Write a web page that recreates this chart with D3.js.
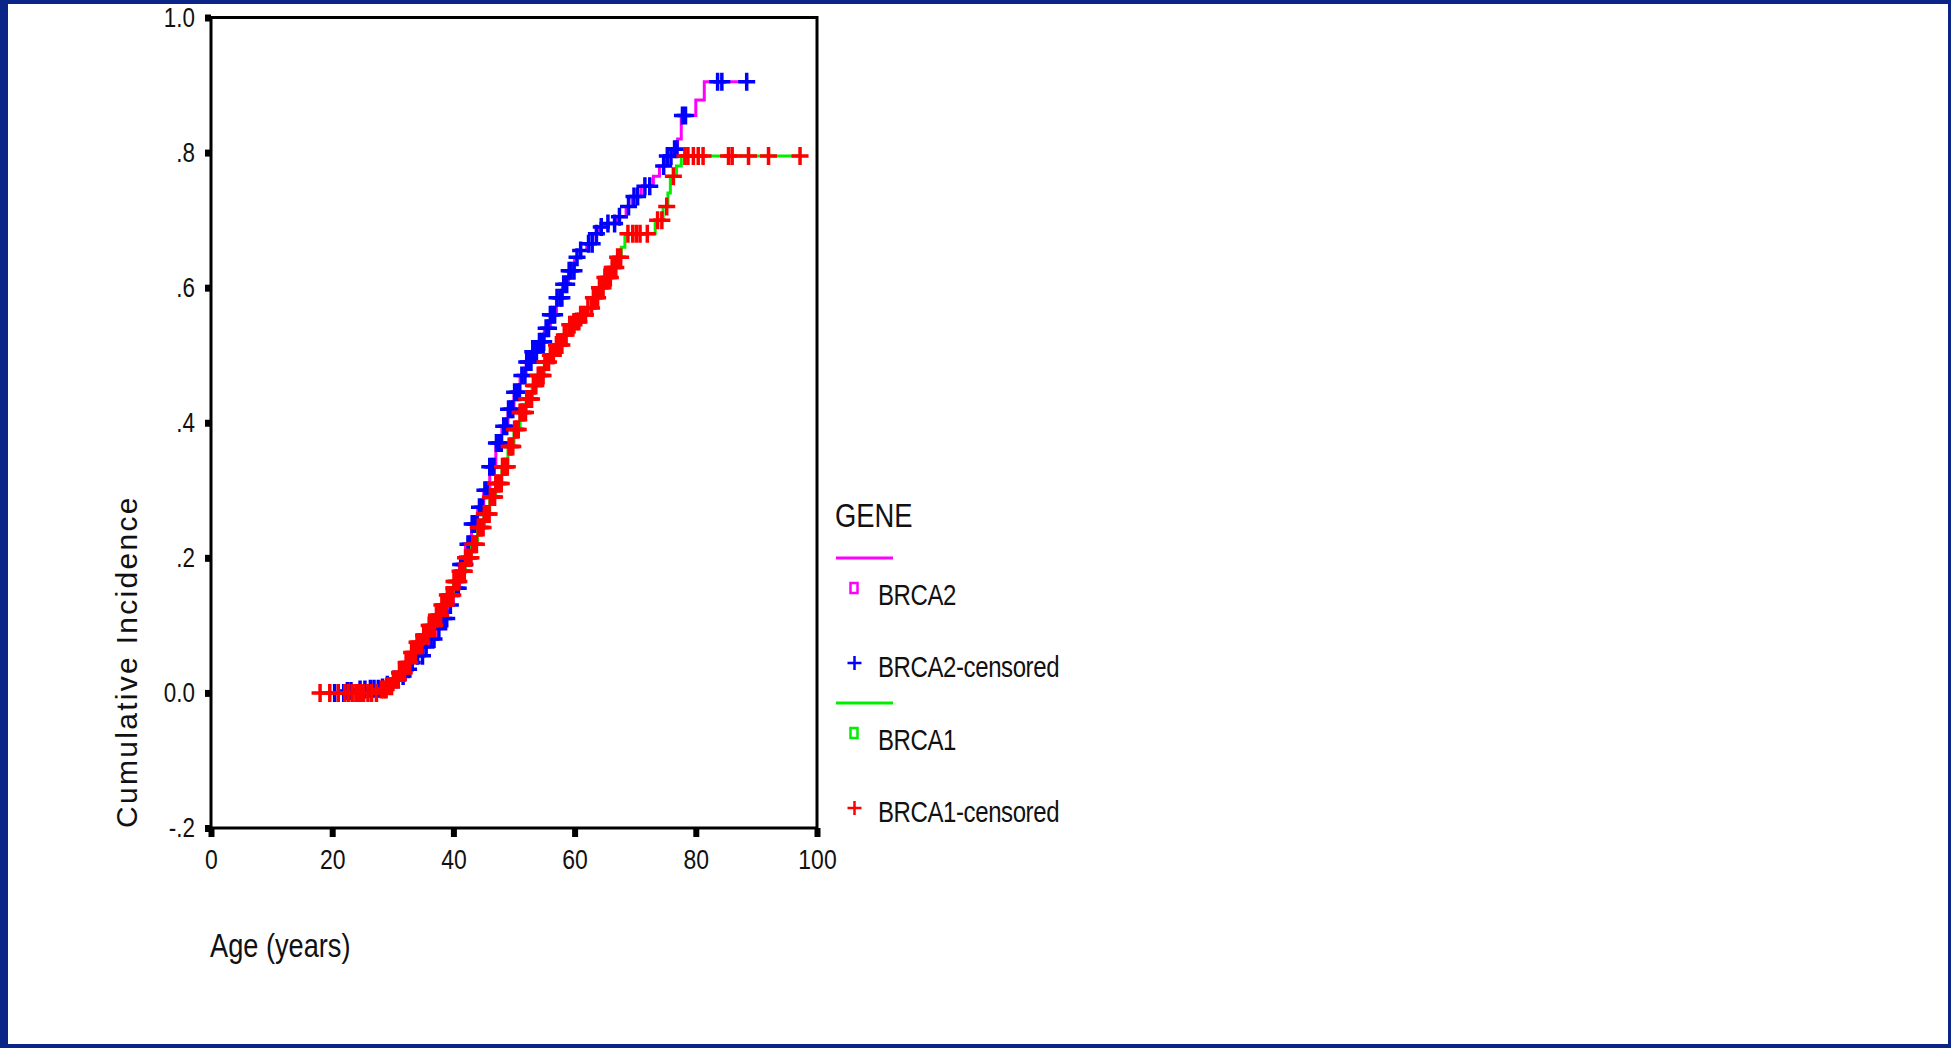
<!DOCTYPE html>
<html>
<head>
<meta charset="utf-8">
<script src="https://cdn.jsdelivr.net/npm/d3@7"></script>
<style>
body { margin:0; background:#ffffff; }
svg { display:block; }
text { font-family:"Liberation Sans",Arial,sans-serif; fill:#111; }
</style>
</head>
<body>
<svg></svg>
<script>
//step points of each curve (age, cumulative incidence)
var brca2Ages   = [18, 22, 24, 26, 28, 29, 30, 31, 32, 33, 34, 35, 36, 37, 38, 39, 40, 41, 42, 43, 44, 45, 46, 47, 48, 49, 50, 51, 52, 53, 54, 55, 56, 57, 58, 59, 60, 61, 62, 63, 64, 65.5, 67, 68.5, 69.5, 71, 73, 74, 75, 76, 77, 77.6, 80, 81.4, 88.4];
var brca2Values = [0, 0.003, 0.005, 0.006, 0.008, 0.012, 0.02, 0.025, 0.035, 0.045, 0.055, 0.068, 0.08, 0.095, 0.11, 0.13, 0.155, 0.19, 0.22, 0.25, 0.275, 0.30, 0.335, 0.37, 0.395, 0.42, 0.445, 0.47, 0.49, 0.505, 0.52, 0.54, 0.56, 0.585, 0.605, 0.625, 0.645, 0.655, 0.665, 0.68, 0.69, 0.695, 0.705, 0.72, 0.735, 0.75, 0.765, 0.78, 0.795, 0.805, 0.82, 0.855, 0.878, 0.905, 0.905];

var brca1Ages   = [18, 28, 29, 30, 31, 32, 33, 34, 35, 36, 37, 38, 39, 40, 41, 42, 43, 44, 45, 46, 47, 48, 49, 50, 51, 52, 53, 54, 55, 56, 57, 58, 59, 60, 61, 62, 63, 64, 65, 66, 67, 67.7, 68.3, 73.3, 74.6, 75.4, 75.8, 76.8, 77.6, 97.2];
var brca1Values = [0, 0.005, 0.01, 0.02, 0.03, 0.045, 0.06, 0.075, 0.085, 0.10, 0.115, 0.13, 0.145, 0.165, 0.18, 0.20, 0.22, 0.245, 0.265, 0.29, 0.31, 0.335, 0.365, 0.39, 0.415, 0.435, 0.455, 0.47, 0.49, 0.50, 0.515, 0.53, 0.545, 0.55, 0.56, 0.57, 0.585, 0.60, 0.615, 0.63, 0.645, 0.66, 0.68, 0.70, 0.72, 0.74, 0.765, 0.78, 0.795, 0.795];

//ages of the censor marks
var brca2Censored = [20.4, 21.9, 22.5, 23.1, 24.6, 25.4, 26.3, 26.9, 27.6, 28.3, 29.1, 30.2, 30.9, 31.7, 32.6, 33.2, 34.1, 34.9, 35.5, 36.3, 36.8, 37.6, 38.4, 38.9, 39.5, 40.1, 40.5, 40.8, 41.2, 41.6, 41.9, 42.4, 42.8, 43.1, 43.5, 43.9, 44.3, 44.8, 45.2, 45.6, 46.0, 46.4, 46.7, 47.1, 47.5, 47.9, 48.3, 48.8, 49.1, 49.5, 49.8, 50.1, 50.6, 50.9, 51.3, 51.8, 52.1, 52.4, 52.8, 53.1, 53.4, 53.7, 54.2, 54.6, 54.9, 55.3, 55.7, 56.0, 56.3, 56.7, 57.1, 57.6, 57.9, 58.2, 58.7, 59.1, 59.4, 59.9, 60.4, 61.0, 62.3, 62.9, 63.6, 64.4, 65.5, 66.6, 67.4, 68.9, 69.8, 70.4, 71.6, 72.4, 74.7, 75.3, 75.9, 76.5, 76.9, 77.8, 78.3, 83.6, 84.3, 88.4];
var brca1Censored = [18.0, 19.6, 21.0, 22.1, 22.7, 23.3, 23.9, 24.3, 24.8, 25.2, 25.9, 26.5, 27.3, 28.1, 28.5, 28.9, 29.3, 29.8, 30.1, 30.4, 30.6, 30.9, 31.1, 31.4, 31.7, 31.9, 32.2, 32.5, 32.8, 33.1, 33.4, 33.7, 34.0, 34.2, 34.5, 34.8, 35.1, 35.3, 35.5, 35.8, 36.0, 36.2, 36.4, 36.7, 36.9, 37.2, 37.5, 37.7, 37.9, 38.1, 38.4, 38.6, 38.8, 39.0, 39.3, 39.6, 39.9, 40.1, 40.3, 40.5, 40.7, 40.9, 41.1, 41.4, 41.6, 41.8, 42.0, 42.3, 42.5, 42.7, 42.9, 43.2, 43.5, 43.8, 44.1, 44.4, 44.6, 44.9, 45.1, 45.4, 45.7, 45.9, 46.1, 46.3, 46.6, 46.8, 47.0, 47.2, 47.4, 47.6, 47.9, 48.1, 48.3, 48.5, 48.7, 48.9, 49.2, 49.4, 49.6, 49.8, 50.1, 50.3, 50.5, 50.7, 51.0, 51.2, 51.4, 51.6, 51.9, 52.1, 52.4, 52.7, 52.9, 53.2, 53.4, 53.6, 54.0, 54.3, 54.6, 54.8, 55.1, 55.4, 55.7, 56.0, 56.3, 56.5, 57.0, 57.3, 57.6, 57.9, 58.3, 58.6, 59.2, 59.5, 59.9, 60.3, 60.7, 61.0, 61.4, 61.8, 62.2, 62.8, 63.1, 63.5, 63.8, 64.1, 64.4, 64.7, 65.0, 65.3, 65.6, 65.9, 66.2, 66.4, 66.8, 67.1, 67.6, 68.8, 69.6, 70.2, 70.8, 72.0, 73.7, 74.4, 75.2, 76.3, 78.2, 78.7, 79.6, 80.4, 81.2, 85.4, 86.0, 88.7, 92.0, 97.2];

var xTicks = [0, 20, 40, 60, 80, 100];
var yTicks = [-0.2, 0, 0.2, 0.4, 0.6, 0.8, 1.0];
var yTickLabels = ["-.2", "0.0", ".2", ".4", ".6", ".8", "1.0"];

var geneNames = ["BRCA2", "BRCA1"];
var lineColors = ["#ff00ff", "#00ee00"];
var markColors = ["#0000ff", "#ff0000"];

var screen = {width:1951, height:1048};

var svg = d3.select("svg")
    .attr("width", screen.width)
    .attr("height", screen.height);

//slide background with its navy border
svg.append("rect")
    .attr("width", screen.width).attr("height", screen.height)
    .attr("fill", "#0b2488");
svg.append("rect")
    .attr("x", 8).attr("y", 4)
    .attr("width", screen.width - 11).attr("height", screen.height - 8)
    .attr("fill", "#ffffff");

var xScale = d3.scaleLinear().domain([0, 100]).range([211, 817]);
var yScale = d3.scaleLinear().domain([-0.2, 1.0]).range([828, 17.5]);

//value of a step curve at a given age
var valueAt = function(ages, values, age)
{
    var i = d3.bisectRight(ages, age) - 1;
    return values[Math.max(i, 0)];
}

var line = d3.line()
    .x(function(d){ return xScale(d[0]); })
    .y(function(d){ return yScale(d[1]); })
    .curve(d3.curveStepAfter);

var plus = "M-8.5,0H8.5M0,-9V9";

var drawCurve = function(ages, values, censored, lineColor, markColor)
{
    svg.append("path")
        .datum(d3.zip(ages, values))
        .attr("d", line)
        .attr("fill", "none")
        .attr("stroke", lineColor)
        .attr("stroke-width", 3);

    svg.append("g")
        .selectAll("path")
        .data(censored)
        .enter()
        .append("path")
        .attr("d", plus)
        .attr("transform", function(a){
            return "translate(" + xScale(a) + "," + yScale(valueAt(ages, values, a)) + ")";
        })
        .attr("fill", "none")
        .attr("stroke", markColor)
        .attr("stroke-width", 3.5);
}

drawCurve(brca2Ages, brca2Values, brca2Censored, lineColors[0], markColors[0]);
drawCurve(brca1Ages, brca1Values, brca1Censored, lineColors[1], markColors[1]);

//frame round the plot area
svg.append("rect")
    .attr("x", xScale(0)).attr("y", yScale(1.0))
    .attr("width", xScale(100) - xScale(0))
    .attr("height", yScale(-0.2) - yScale(1.0))
    .attr("fill", "none")
    .attr("stroke", "#000")
    .attr("stroke-width", 3);

var yAxis = d3.axisLeft(yScale)
    .tickValues(yTicks)
    .tickSize(6)
    .tickPadding(10)
    .tickFormat(function(d, i){ return yTickLabels[i]; });

var xAxis = d3.axisBottom(xScale)
    .tickValues(xTicks)
    .tickSize(9)
    .tickPadding(12)
    .tickFormat(d3.format("d"));

var gy = svg.append("g")
    .attr("transform", "translate(" + xScale(0) + ",0)")
    .call(yAxis);
var gx = svg.append("g")
    .attr("transform", "translate(0," + yScale(-0.2) + ")")
    .call(xAxis);

gy.select(".domain").remove();
gx.select(".domain").remove();
gy.selectAll("line").attr("stroke", "#000").attr("stroke-width", 7);
gx.selectAll("line").attr("stroke", "#000").attr("stroke-width", 6);

//the original lettering is condensed, so squeeze it sideways
var squeeze = function(sel, s)
{
    sel.each(function(){
        var t = d3.select(this);
        var x = +t.attr("x") || 0;
        t.attr("x", x / s).attr("transform", "scale(" + s + ",1)");
    });
}

gy.selectAll("text").style("font-size", "28px").attr("fill", "#111");
gx.selectAll("text").style("font-size", "28px").attr("fill", "#111");
squeeze(gy.selectAll("text"), 0.8);
squeeze(gx.selectAll("text"), 0.82);

//axis titles
svg.append("text")
    .text("Cumulative Incidence")
    .attr("transform", "translate(137,828) rotate(-90)")
    .style("font-size", "30px")
    .style("letter-spacing", "2.3px");

var placeText = function(parent, str, x, y, size, s)
{
    return parent.append("text")
        .text(str)
        .attr("transform", "translate(" + x + "," + y + ") scale(" + s + ",1)")
        .style("font-size", size + "px");
}

placeText(svg, "Age (years)", 210, 957, 34, 0.8);

//legend
var legend = svg.append("g");

placeText(legend, "GENE", 835, 527, 33, 0.83);

geneNames.forEach(function(name, i){
    var base = 605 + i * 145;

    legend.append("line")
        .attr("x1", 836).attr("x2", 893)
        .attr("y1", base - 47).attr("y2", base - 47)
        .attr("stroke", lineColors[i])
        .attr("stroke-width", 3);

    legend.append("rect")
        .attr("x", 850.5).attr("y", base - 22)
        .attr("width", 7).attr("height", 10)
        .attr("fill", "none")
        .attr("stroke", lineColors[i])
        .attr("stroke-width", 2.5);

    placeText(legend, name, 878, base, 30, 0.8)
        .style("letter-spacing", "-0.5px");

    legend.append("path")
        .attr("d", "M-7,0H7M0,-7V7")
        .attr("transform", "translate(854.5," + (base + 72 - 14) + ")")
        .attr("fill", "none")
        .attr("stroke", markColors[i])
        .attr("stroke-width", 2.5);

    placeText(legend, name + "-censored", 878, base + 72, 30, 0.8)
        .style("letter-spacing", "-0.5px");
});
</script>
</body>
</html>
